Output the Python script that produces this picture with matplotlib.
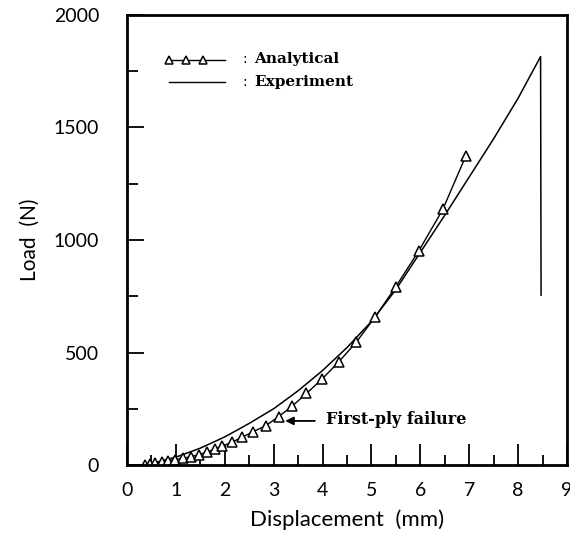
import numpy as np
import matplotlib
matplotlib.use("Agg")
import matplotlib.pyplot as plt
from matplotlib.ticker import MultipleLocator

# measured load-displacement curve
exp_disp = [0.27, 0.6, 1.0, 1.5, 2.0, 2.5, 3.0, 3.5, 4.0, 4.5, 5.0, 5.5,
            6.0, 6.5, 7.0, 7.5, 8.0, 8.46, 8.47]
exp_load = [0, 12, 35, 75, 125, 185, 250, 330, 420, 522, 638, 780,
            945, 1110, 1280, 1450, 1630, 1815, 755]

# analytical prediction (load steps)
ana_disp = [0.37, 0.47, 0.57, 0.71, 0.84, 0.98, 1.15, 1.31, 1.47, 1.64, 1.79,
            1.95, 2.14, 2.35, 2.58, 2.84, 3.10, 3.38, 3.67, 3.99, 4.33, 4.69,
            5.08, 5.50, 5.97, 6.46, 6.93]
ana_load = [2, 5, 9, 13, 18, 24, 30, 37, 46, 58, 70, 84, 101, 123, 148, 175,
            215, 262, 318, 382, 458, 546, 659, 793, 952, 1136, 1373]

first_ply = (3.18, 196)

fig = plt.figure(figsize=(5.70, 5.43), dpi=100)
ax = fig.add_axes([0.2228, 0.1436, 0.7719, 0.8288])

ax.plot(exp_disp, exp_load, color="black", lw=1.1)
ax.plot(ana_disp, ana_load, color="black", lw=1.0, marker="^", ms=7,
        mfc="white", mec="black", mew=1.1)

ax.set_xlim(0, 9)
ax.set_ylim(0, 2000)
ax.xaxis.set_major_locator(MultipleLocator(1))
ax.xaxis.set_minor_locator(MultipleLocator(0.5))
ax.yaxis.set_major_locator(MultipleLocator(500))
ax.yaxis.set_minor_locator(MultipleLocator(250))

for s in ax.spines.values():
    s.set_linewidth(2)
ax.tick_params(axis="x", which="major", direction="in", length=15, width=1.3,
               labelsize=14, pad=12, labelcolor="black")
ax.tick_params(axis="x", which="minor", direction="in", length=7, width=1.3)
ax.tick_params(axis="y", which="major", direction="in", length=12, width=1.3,
               labelsize=14, pad=20, labelcolor="black")
ax.tick_params(axis="y", which="minor", direction="in", length=8, width=1.3)
for lab in ax.get_xticklabels() + ax.get_yticklabels():
    lab.set_family("Lato")

ax.set_xlabel("Displacement  (mm)", fontsize=16, labelpad=8, family="Lato")
ax.set_ylabel("Load  (N)", fontsize=15, labelpad=10, family="Lato")

# legend drawn by hand
leg_x = [0.85, 1.2, 1.55, 2.0]
ax.plot(leg_x, [1800] * 4, color="black", lw=1.0, marker="^", ms=6,
        mfc="white", mec="black", mew=1.1, markevery=[0, 1, 2])
ax.plot([0.85, 2.0], [1700, 1700], color="black", lw=1.0)
ax.text(2.35, 1805, ":", fontsize=10, va="center")
ax.text(2.6, 1805, "Analytical", fontsize=11, fontweight="bold",
        va="center", family="DejaVu Serif")
ax.text(2.35, 1702, ":", fontsize=10, va="center")
ax.text(2.6, 1702, "Experiment", fontsize=11, fontweight="bold",
        va="center", family="DejaVu Serif")

# first-ply failure marker
ax.annotate("", xy=first_ply, xytext=(3.9, first_ply[1]),
            arrowprops=dict(arrowstyle="-|>", color="black", lw=1.3,
                            mutation_scale=12))
ax.text(4.08, first_ply[1] + 8, "First-ply failure", fontsize=11.5,
        fontweight="bold", va="center", family="DejaVu Serif")

fig.savefig("out.png", dpi=100)
